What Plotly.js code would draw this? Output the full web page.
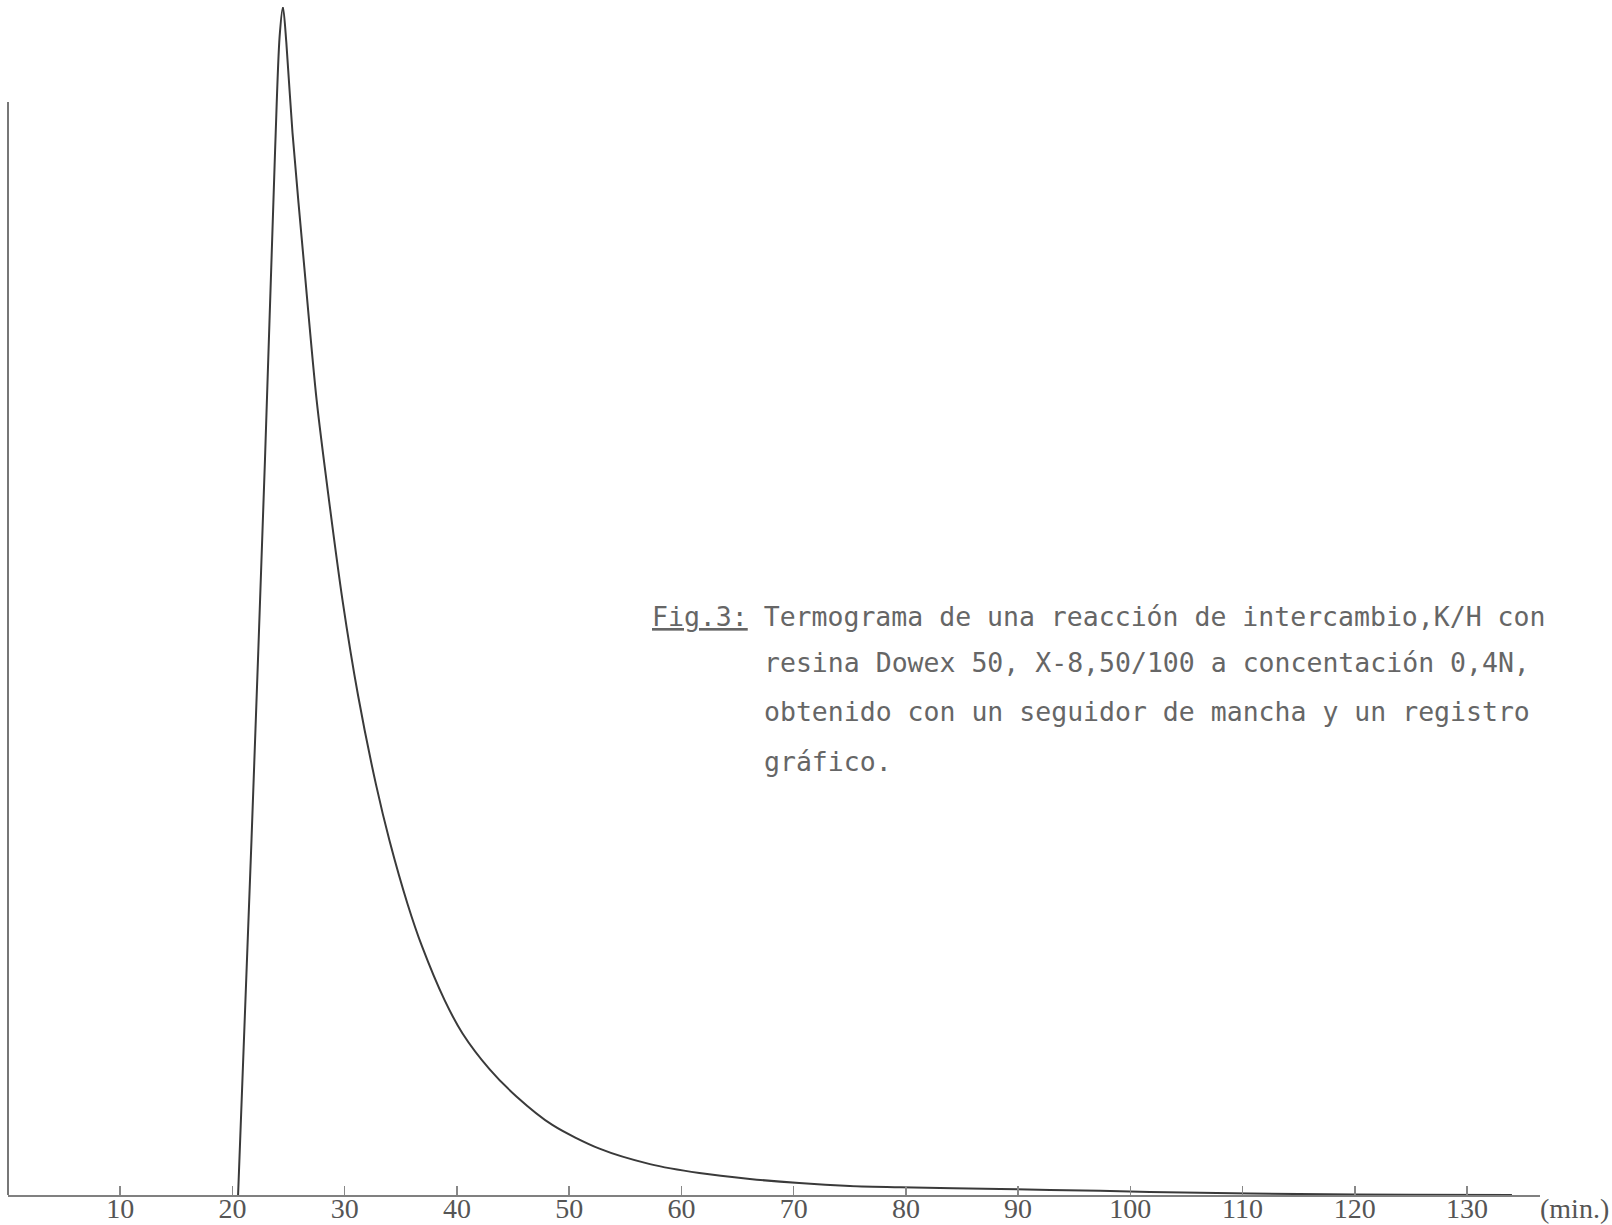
<!DOCTYPE html>
<html>
<head>
<meta charset="utf-8">
<script src="https://cdn.plot.ly/plotly-3.0.1.min.js"></script>
<style>
  html, body { margin: 0; padding: 0; background: #ffffff; }
  #chart { width: 1612px; height: 1225px; }
</style>
</head>
<body>
<div id="chart"></div>
<script>
// Thermogram of the K/H exchange reaction: recorder signal vs. time (min)
const timeMin = [20.5, 21.7, 22.9, 23.8, 24.2, 24.5, 24.8, 25.35,
                 26.4, 27.5, 28.6, 29.8, 31.2, 32.8, 34.0, 35.6, 36.9, 38.9, 40.5,
                 42.9, 45.3, 48.5, 52.7, 57.2, 61.6, 66.1, 70.5, 75.0, 79.5, 88.4,
                 97.3, 106.2, 115.0, 125.0, 134.0];
const signal  = [0, 30, 62, 88, 97.5, 100, 97, 89.4,
                 78.1, 66.9, 58.5, 50.1, 42.0, 34.5, 29.8, 24.5, 20.9, 16.4, 13.6,
                 10.6, 8.3, 5.9, 3.9, 2.6, 1.85, 1.35, 1.0, 0.76, 0.65, 0.5,
                 0.35, 0.18, 0.08, 0.02, 0];

const tickValues = [10, 20, 30, 40, 50, 60, 70, 80, 90, 100, 110, 120, 130];
const tickLabels = ['10', '20', '30', '40', '50', '60', '70', '80', '90', '100', '110', '120', '130'];
const unitLabel = '(min.)';

const captionLines = [
  '<u>Fig.3:</u> Termograma de una reacción de intercambio,K/H con',
  'resina Dowex 50, X-8,50/100 a concentación 0,4N,',
  'obtenido con un seguidor de mancha y un registro',
  'gráfico.'
];

const W = 1612, H = 1225;
const margin = { l: 8, r: 72, t: 7, b: 30 };
const plotW = W - margin.l - margin.r;
const plotH = H - margin.t - margin.b;
// convert a pixel position in the page to paper coordinates
const px = x => (x - margin.l) / plotW;
const py = y => (H - margin.b - y) / plotH;

const captionFont = { family: 'DejaVu Sans Mono, Liberation Mono, monospace', size: 26.5, color: '#666666' };
const captionX = [650, 762, 762, 762];
const captionY = [617, 663, 711, 761];

const annotations = captionLines.map((txt, i) => ({
  text: txt,
  xref: 'paper', yref: 'paper',
  x: px(captionX[i]), y: py(captionY[i]),
  xanchor: 'left', yanchor: 'middle',
  showarrow: false, align: 'left',
  font: captionFont
}));

annotations.push({
  text: unitLabel,
  xref: 'paper', yref: 'paper',
  x: px(1538), y: py(1208),
  xanchor: 'left', yanchor: 'middle',
  showarrow: false,
  font: { family: 'Liberation Serif, serif', size: 28, color: '#555555' }
});

const trace = {
  x: timeMin,
  y: signal,
  type: 'scatter',
  mode: 'lines',
  line: { color: '#3a3a3a', width: 2, shape: 'spline', smoothing: 0.8 },
  cliponaxis: false,
  hoverinfo: 'x+y'
};

const layout = {
  width: W, height: H,
  margin: margin,
  paper_bgcolor: '#ffffff',
  plot_bgcolor: '#ffffff',
  showlegend: false,
  xaxis: {
    range: [0, 136.5],
    showgrid: false, zeroline: false,
    showline: true, linecolor: '#808080', linewidth: 2,
    ticks: 'inside', ticklen: 9, tickwidth: 1.5, tickcolor: '#888888',
    tickmode: 'array', tickvals: tickValues, ticktext: tickLabels,
    ticklabelstandoff: -13,
    tickfont: { family: 'Liberation Serif, serif', size: 28, color: '#555555' }
  },
  yaxis: {
    range: [0, 100],
    showgrid: false, zeroline: false, showline: false,
    showticklabels: false, ticks: ''
  },
  shapes: [{
    type: 'line', xref: 'paper', yref: 'paper',
    x0: 0, x1: 0, y0: 0, y1: 0.92,
    line: { color: '#4a4a4a', width: 1.5 }
  }],
  annotations: annotations
};

Plotly.newPlot('chart', [trace], layout, { displayModeBar: false, staticPlot: true });
</script>
</body>
</html>
